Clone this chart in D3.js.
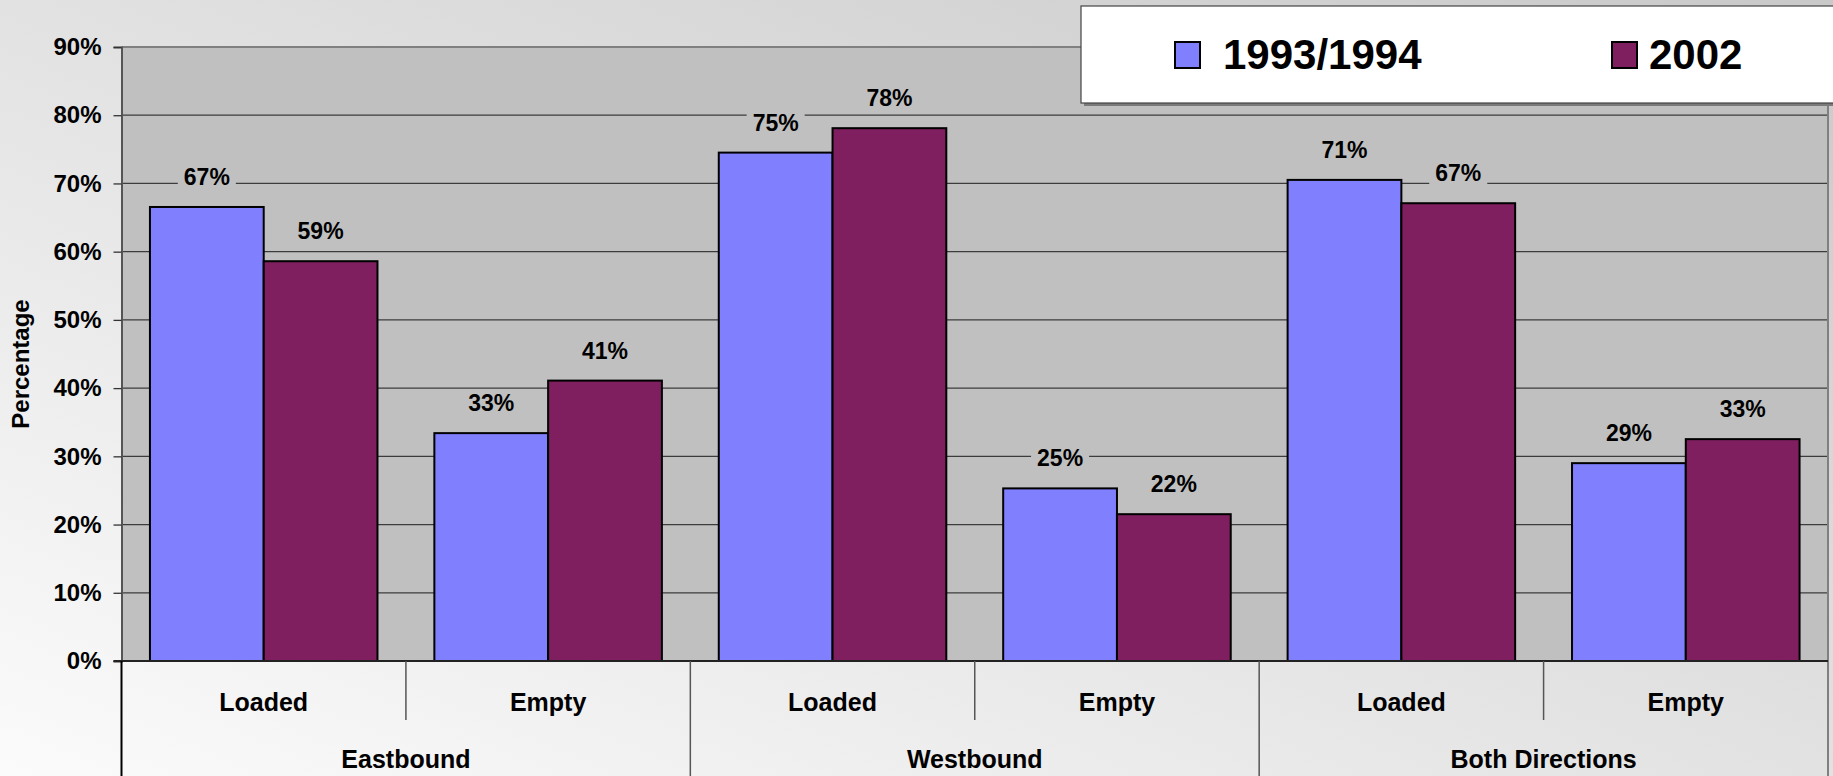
<!DOCTYPE html>
<html>
<head>
<meta charset="utf-8">
<script src="https://cdn.jsdelivr.net/npm/d3@7"></script>
<style>
  html, body { margin: 0; padding: 0; background: #fff; }
  svg { display: block; font-family: "Liberation Sans", Arial, sans-serif; font-weight: bold; }
</style>
</head>
<body>
<div class="chart"></div>
<script>
// data
var groups = ['Eastbound', 'Westbound', 'Both Directions'];
var subcats = ['Loaded', 'Empty'];
var series = ['1993/1994', '2002'];
var values9394 = [0.6655, 0.334, 0.7452, 0.253, 0.7052, 0.290];
var values2002 = [0.586, 0.411, 0.781, 0.2152, 0.671, 0.3252];
var yTicks = [0, 0.1, 0.2, 0.3, 0.4, 0.5, 0.6, 0.7, 0.8, 0.9];
var colors = ['#8080ff', '#7f1f5f'];

var W = 1833, H = 776;
var plotLeft = 121.5, plotRight = 1828, plotTop = 47, plotBottom = 661;

var svg = d3.select('.chart')
    .append('svg')
    .attr('width', W)
    .attr('height', H);

// background gradient
var defs = svg.append('defs');
var grad = defs.append('linearGradient')
    .attr('id', 'bg')
    .attr('x1', '0').attr('y1', '1')
    .attr('x2', '1').attr('y2', '0');
grad.append('stop').attr('offset', '0%').attr('stop-color', '#fbfbfb');
grad.append('stop').attr('offset', '100%').attr('stop-color', '#c9c9c9');
svg.append('rect').attr('width', W).attr('height', H).attr('fill', 'url(#bg)');

// flat list of 6 slots
var slots = [];
groups.forEach(g => subcats.forEach(s => slots.push(g + '|' + s)));
var rows = slots.map((k, i) => ({ key: k, g: k.split('|')[0], s: k.split('|')[1], vals: [values9394[i], values2002[i]] }));

var x0 = d3.scaleBand().domain(slots).range([plotLeft, plotRight]);
var x1 = d3.scaleBand().domain(series).range([0, x0.bandwidth()]).paddingOuter(0.25);
var xg = d3.scaleBand().domain(groups).range([plotLeft, plotRight]);
var y = d3.scaleLinear().domain([0, 0.9]).range([plotBottom, plotTop]);

// plot area
svg.append('rect')
    .attr('x', plotLeft).attr('y', plotTop)
    .attr('width', plotRight - plotLeft).attr('height', plotBottom - plotTop)
    .attr('fill', '#c0c0c0');

// gridlines
svg.append('g')
    .selectAll('line')
    .data(yTicks.filter(t => t > 0 && t < 0.9))
    .enter()
    .append('line')
    .attr('x1', plotLeft).attr('x2', plotRight)
    .attr('y1', d => y(d)).attr('y2', d => y(d))
    .attr('stroke', '#3c3c3c')
    .attr('stroke-width', 1.3);

svg.append('line')
    .attr('x1', plotLeft).attr('x2', plotRight)
    .attr('y1', plotTop).attr('y2', plotTop)
    .attr('stroke', '#808080').attr('stroke-width', 2);
svg.append('line')
    .attr('x1', plotRight).attr('x2', plotRight)
    .attr('y1', plotTop).attr('y2', H)
    .attr('stroke', '#808080').attr('stroke-width', 2);

// y axis
var yAxis = d3.axisLeft(y)
    .tickValues(yTicks)
    .tickFormat(d3.format('.0%'))
    .tickSize(8)
    .tickPadding(12);
var ya = svg.append('g')
    .attr('transform', `translate(${plotLeft}, 0)`)
    .call(yAxis);
ya.select('.domain').attr('stroke', '#555').attr('stroke-width', 2);
ya.selectAll('.tick line').attr('stroke', '#333').attr('stroke-width', 1.3);
ya.selectAll('.tick text')
    .attr('fill', '#000')
    .style('font-size', '24px')
    .style('font-weight', 'bold')
    .style('font-family', '"Liberation Sans", Arial, sans-serif');

// bars
var slot = svg.selectAll('.slot')
    .data(rows)
    .enter()
    .append('g')
    .attr('class', 'slot')
    .attr('transform', d => `translate(${x0(d.key)}, 0)`);

slot.selectAll('rect')
    .data(d => d.vals.map((v, i) => ({ v: v, i: i })))
    .enter()
    .append('rect')
    .attr('x', d => x1(series[d.i]))
    .attr('y', d => y(d.v))
    .attr('width', x1.bandwidth())
    .attr('height', d => plotBottom - y(d.v))
    .attr('fill', d => colors[d.i])
    .attr('stroke', '#000')
    .attr('stroke-width', 2);

// data labels with knock-out background
var labels = slot.selectAll('.lbl')
    .data(d => d.vals.map((v, i) => ({ v: v, i: i })))
    .enter()
    .append('g')
    .attr('class', 'lbl')
    .attr('transform', d => `translate(${x1(series[d.i]) + x1.bandwidth() / 2}, ${y(d.v) - 22})`);
labels.append('rect')
    .attr('x', -29).attr('y', -20)
    .attr('width', 58).attr('height', 24)
    .attr('fill', '#c0c0c0');
labels.append('text')
    .style('text-anchor', 'middle')
    .style('font-size', '23px')
    .attr('fill', '#000')
    .text(d => d3.format('.0%')(d.v));

// bottom axis line
svg.append('line')
    .attr('x1', plotLeft - 8).attr('x2', plotRight)
    .attr('y1', plotBottom).attr('y2', plotBottom)
    .attr('stroke', '#222').attr('stroke-width', 2);

// category axis
svg.append('line')
    .attr('x1', plotLeft).attr('x2', plotLeft)
    .attr('y1', plotBottom).attr('y2', H)
    .attr('stroke', '#000').attr('stroke-width', 2);

svg.selectAll('.sep')
    .data(groups)
    .enter()
    .append('line')
    .attr('class', 'sep')
    .attr('x1', d => xg(d) + xg.bandwidth() / 2)
    .attr('x2', d => xg(d) + xg.bandwidth() / 2)
    .attr('y1', plotBottom).attr('y2', 720)
    .attr('stroke', '#555').attr('stroke-width', 1.5);

svg.selectAll('.gsep')
    .data(groups.slice(1))
    .enter()
    .append('line')
    .attr('class', 'gsep')
    .attr('x1', d => xg(d)).attr('x2', d => xg(d))
    .attr('y1', plotBottom).attr('y2', H)
    .attr('stroke', '#555').attr('stroke-width', 1.5);

svg.selectAll('.subl')
    .data(rows)
    .enter()
    .append('text')
    .attr('class', 'subl')
    .attr('x', d => x0(d.key) + x0.bandwidth() / 2)
    .attr('y', 711)
    .style('text-anchor', 'middle')
    .style('font-size', '25px')
    .text(d => d.s);

svg.selectAll('.grpl')
    .data(groups)
    .enter()
    .append('text')
    .attr('class', 'grpl')
    .attr('x', d => xg(d) + xg.bandwidth() / 2)
    .attr('y', 768)
    .style('text-anchor', 'middle')
    .style('font-size', '25px')
    .text(d => d);

// y title
svg.append('text')
    .attr('transform', 'translate(29, 364) rotate(-90)')
    .style('text-anchor', 'middle')
    .style('font-size', '24px')
    .text('Percentage');

// legend
var lg = svg.append('g');
lg.append('rect')
    .attr('x', 1084).attr('y', 9)
    .attr('width', 760).attr('height', 97)
    .attr('fill', '#7a7a7a');
lg.append('rect')
    .attr('x', 1081).attr('y', 6)
    .attr('width', 760).attr('height', 97)
    .attr('fill', '#fff')
    .attr('stroke', '#444').attr('stroke-width', 1.2);

var items = lg.selectAll('.item')
    .data(series)
    .enter()
    .append('g')
    .attr('class', 'item')
    .attr('transform', (d, i) => `translate(${1175 + i * 437}, 0)`);
items.append('rect')
    .attr('x', 0).attr('y', 42)
    .attr('width', 25).attr('height', 26)
    .attr('fill', (d, i) => colors[i])
    .attr('stroke', '#000').attr('stroke-width', 2);
items.append('text')
    .attr('x', (d, i) => i === 0 ? 48 : 37)
    .attr('y', 69)
    .style('font-size', '42px')
    .text(d => d);
</script>
</body>
</html>
